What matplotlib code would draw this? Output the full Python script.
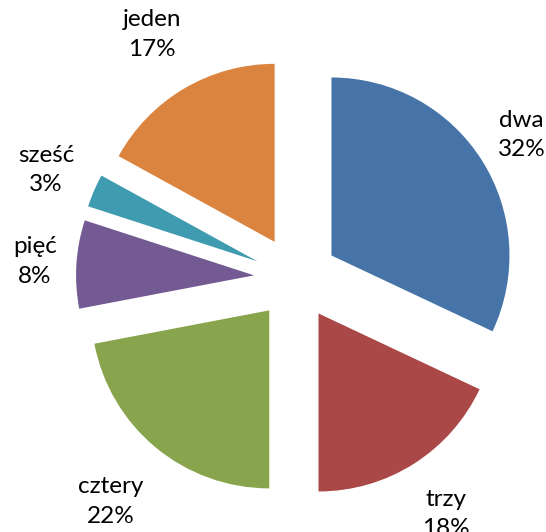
import numpy as np
import matplotlib
matplotlib.use("Agg")
import matplotlib.pyplot as plt

categories = ["dwa", "trzy", "cztery", "pięć", "sześć", "jeden"]
values = [32, 18, 22, 8, 3, 17]
colors = ["#4674A8", "#A94846", "#88A54E", "#735A93", "#3F9BB0", "#DA843F"]

# styling / layout constants
R_PX = 178.0
CX, CY = 296.0, 278.0
W, H = 546, 532
EXPLODE = 0.236
label_r = [1.50, 1.57, 1.63, 1.47, 1.53, 1.59]

plt.rcParams['font.family'] = ['Lato', 'DejaVu Sans']

fig = plt.figure(figsize=(W / 100, H / 100), dpi=100)
ax = fig.add_axes([0, 0, 1, 1])
ax.pie(values, colors=colors, startangle=90, counterclock=False,
       explode=[EXPLODE] * len(values), radius=1.0,
       wedgeprops=dict(linewidth=0))

total = sum(values)
cum = np.cumsum([0] + values[:-1])
for i, (cat, v) in enumerate(zip(categories, values)):
    theta = np.deg2rad(90 - 360 * (cum[i] + v / 2) / total)
    x = label_r[i] * np.cos(theta)
    y = label_r[i] * np.sin(theta)
    pct = f"{round(100 * v / total)}%"
    ax.text(x, y, f"{cat}\n{pct}", ha="center", va="center",
            fontsize=17.5, linespacing=1.5, color="#000000")

ax.set_xlim(-CX / R_PX, (W - CX) / R_PX)
ax.set_ylim(-(H - CY) / R_PX, CY / R_PX)
ax.set_aspect("equal")
ax.axis("off")
fig.savefig("out.png", dpi=100)
